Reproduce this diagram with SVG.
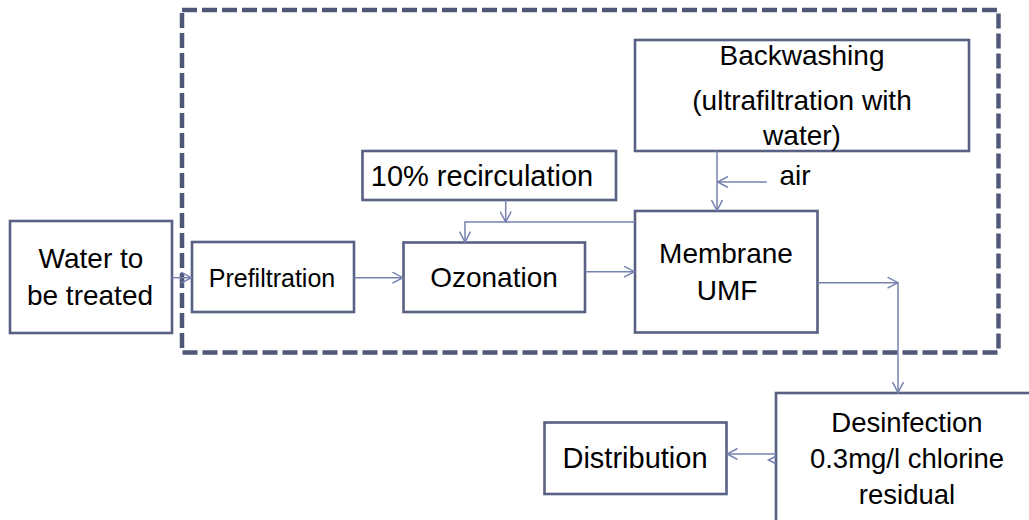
<svg xmlns="http://www.w3.org/2000/svg" width="1029" height="520" viewBox="0 0 1029 520">
<style>
  .box{fill:#ffffff;stroke:#586083;stroke-width:2.6}
  .frame{fill:none;stroke:#50587a;stroke-width:4.5;stroke-dasharray:15 5}
  .conn{fill:none;stroke:#7582b0;stroke-width:1.5}
  .t{font-family:"Liberation Sans",Arial,sans-serif;font-size:28px;fill:#000;text-anchor:middle}
</style>
<defs>
  <marker id="arr" viewBox="0 0 12 12" refX="11" refY="6" markerWidth="12" markerHeight="12" markerUnits="userSpaceOnUse" orient="auto">
    <path d="M0.5,0.5 L11,6 L0.5,11.5" fill="none" stroke="#7582b0" stroke-width="1.5"/>
  </marker>
</defs>
<rect class="frame" x="182" y="10" width="816.5" height="342.5"/>
<g id="water">
  <rect class="box" x="10" y="221" width="162" height="112"/>
  <text class="t" x="91" y="268">Water to</text>
  <text class="t" x="90" y="305">be treated</text>
</g>
<g id="prefiltration">
  <rect class="box" x="192" y="242" width="162" height="70"/>
  <text class="t" x="272" y="287" style="font-size:25px">Prefiltration</text>
</g>
<g id="ozonation">
  <rect class="box" x="403.5" y="242.5" width="181.5" height="69.5"/>
  <text class="t" x="494" y="287">Ozonation</text>
</g>
<g id="recirculation">
  <rect class="box" x="362.5" y="151" width="253.5" height="49"/>
  <text class="t" x="482" y="186" style="font-size:29px">10% recirculation</text>
</g>
<g id="backwashing">
  <rect class="box" x="635" y="40" width="334" height="111"/>
  <text class="t" x="802" y="65">Backwashing</text>
  <text class="t" x="802" y="110">(ultrafiltration with</text>
  <text class="t" x="802" y="145">water)</text>
</g>
<g id="membrane">
  <rect class="box" x="635" y="211" width="182.5" height="121.5"/>
  <text class="t" x="726" y="263">Membrane</text>
  <text class="t" x="727" y="299.5">UMF</text>
</g>
<g id="air">
  <text class="t" x="795" y="185" style="text-anchor:middle">air</text>
</g>
<g id="desinfection">
  <rect class="box" x="776" y="393" width="270" height="140"/>
  <text class="t" x="907" y="432" style="font-size:27.5px">Desinfection</text>
  <text class="t" x="907" y="468" style="font-size:27.5px">0.3mg/l chlorine</text>
  <text class="t" x="907" y="504" style="font-size:27.5px">residual</text>
</g>
<g id="distribution">
  <rect class="box" x="544.5" y="422.5" width="182" height="71.5"/>
  <text class="t" x="635" y="467.5" style="font-size:29px">Distribution</text>
</g>
<g id="connectors">
  <path class="conn" d="M172,277.7 L191.5,277.7" marker-end="url(#arr)"/>
  <path class="conn" d="M354,277.7 L403,277.7" marker-end="url(#arr)"/>
  <path class="conn" d="M585,271.7 L634.5,271.7" marker-end="url(#arr)"/>
  <path class="conn" d="M505.7,200 L505.7,222" marker-end="url(#arr)"/>
  <path class="conn" d="M635,222 L465,222 L465,242" marker-end="url(#arr)"/>
  <path class="conn" d="M717,151 L717,210.5" marker-end="url(#arr)"/>
  <path class="conn" d="M766.7,182 L717.5,182" marker-end="url(#arr)"/>
  <path class="conn" d="M817.7,282.7 L898,282.7" marker-end="url(#arr)"/>
  <path class="conn" d="M898,282.7 L898,392.5" marker-end="url(#arr)"/>
  <path class="conn" d="M776,454 L727,454" marker-end="url(#arr)"/>
  <path class="conn" d="M775.5,456.5 L768.5,460 L775.5,463.5"/>
</g>
</svg>
